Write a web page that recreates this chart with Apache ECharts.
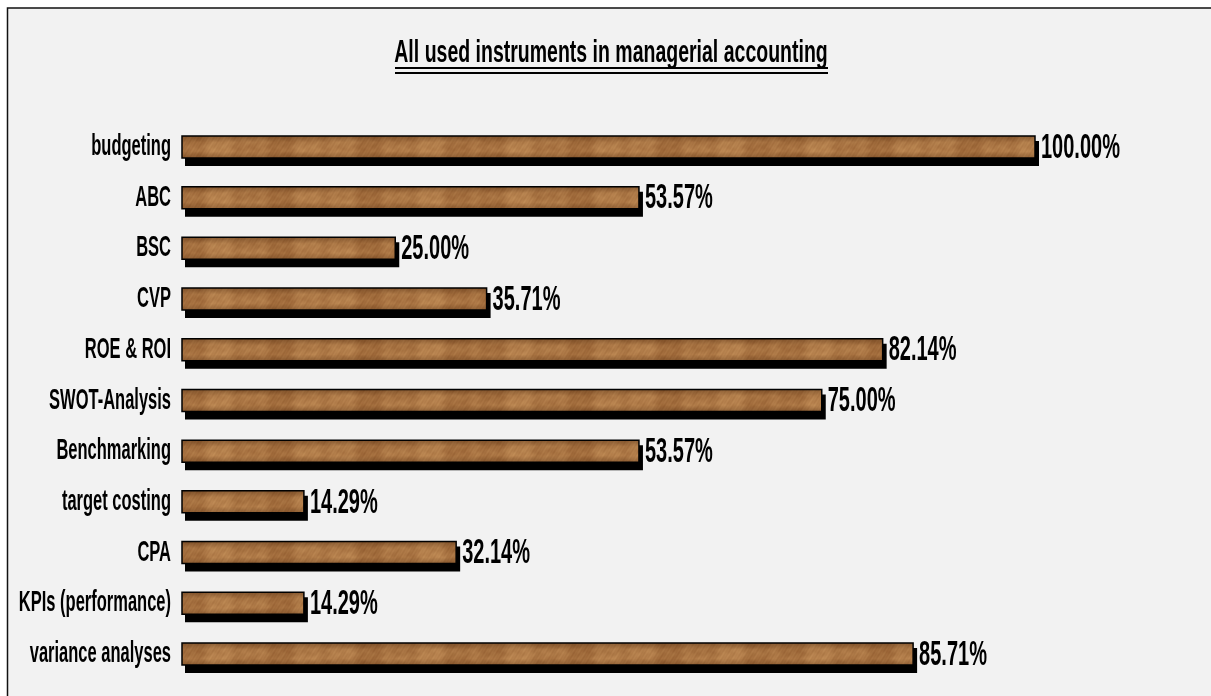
<!DOCTYPE html>
<html>
<head>
<meta charset="utf-8">
<title>All used instruments in managerial accounting</title>
<script src="https://cdn.jsdelivr.net/npm/echarts@6/dist/echarts.min.js"></script>
<style>
  html, body { margin: 0; padding: 0; background: #ffffff; }
  #chart { width: 1211px; height: 696px; }
</style>
</head>
<body>
<div id="chart"></div>
<script>
// Instruments and share of respondents using each one (%)
const categories = [
  'budgeting', 'ABC', 'BSC', 'CVP', 'ROE & ROI', 'SWOT-Analysis',
  'Benchmarking', 'target costing', 'CPA', 'KPIs (performance)', 'variance analyses'
];
const shares = [100.00, 53.57, 25.00, 35.71, 82.14, 75.00, 53.57, 14.29, 32.14, 14.29, 85.71];
const titleText = 'All used instruments in managerial accounting';

const FONT = '"Liberation Sans", Arial, sans-serif';
const BAR_H = 22;

// Wood-grain fill for the bars: periodic sine bands so the tile repeats seamlessly
function woodTexture() {
  const w = 300, h = 16;
  const c = document.createElement('canvas');
  c.width = w; c.height = h;
  const ctx = c.getContext('2d');
  const img = ctx.createImageData(w, h);
  const dark = [150, 96, 50], light = [204, 152, 96];
  const TX = 2 * Math.PI / w, TY = 2 * Math.PI / h;
  for (let y = 0; y < h; y++) {
    for (let x = 0; x < w; x++) {
      let t = 0.42
        + 0.14 * Math.sin(3 * TX * x + 0.6 * Math.sin(TY * y))
        + 0.10 * Math.sin(7 * TX * x + 1.1)
        + 0.08 * Math.sin(17 * TX * x + 2.3 + 0.8 * Math.sin(2 * TY * y))
        + 0.06 * Math.sin(43 * TX * x + TY * y * 2)
        + 0.05 * Math.sin(97 * TX * x + 3 * TY * y + 0.4);
      t = Math.max(0, Math.min(1, t));
      const i = (y * w + x) * 4;
      img.data[i]     = dark[0] + (light[0] - dark[0]) * t;
      img.data[i + 1] = dark[1] + (light[1] - dark[1]) * t;
      img.data[i + 2] = dark[2] + (light[2] - dark[2]) * t;
      img.data[i + 3] = 255;
    }
  }
  ctx.putImageData(img, 0, 0);
  return c;
}
const wood = woodTexture();

const chart = echarts.init(document.getElementById('chart'), null, { renderer: 'canvas' });

chart.setOption({
  backgroundColor: '#ffffff',
  animation: false,
  graphic: [
    {
      type: 'rect', z: -10, silent: true,
      shape: { x: 7.5, y: 8, width: 1400, height: 900 },
      style: { fill: '#f2f2f2', stroke: '#111111', lineWidth: 1.5 }
    },
    {
      type: 'text', silent: true,
      x: 611, y: 53.5, scaleX: 1, scaleY: 1.64,
      style: {
        text: titleText, font: 'bold 19.5px ' + FONT, fill: '#000',
        align: 'center', verticalAlign: 'middle'
      }
    },
    { type: 'rect', silent: true, shape: { x: 395, y: 67, width: 433, height: 2 }, style: { fill: '#000' } },
    { type: 'rect', silent: true, shape: { x: 395, y: 72, width: 433, height: 2 }, style: { fill: '#000' } }
  ],
  grid: { left: 182, right: 176, top: 121.6, bottom: 16.7, containLabel: false },
  xAxis: { type: 'value', min: 0, max: 100, show: false },
  yAxis: { type: 'category', data: categories, inverse: true, show: false },
  series: [
    {
      // wooden bars with a hard drop shadow
      name: 'share',
      type: 'custom',
      z: 2,
      data: shares.map((v, i) => [v, i]),
      encode: { x: 0, y: 1 },
      renderItem: function (params, api) {
        const start = api.coord([0, api.value(1)]);
        const end = api.coord([api.value(0), api.value(1)]);
        const x0 = start[0], y0 = start[1] - BAR_H / 2;
        const w = end[0] - start[0];
        return {
          type: 'group',
          children: [
            {
              type: 'rect',
              shape: { x: x0 + 3, y: y0 + 5, width: w + 1, height: BAR_H + 3 },
              style: { fill: '#000' }
            },
            {
              type: 'rect',
              shape: { x: x0, y: y0, width: w, height: BAR_H },
              style: { fill: { image: wood, repeat: 'repeat' } }
            },
            {
              type: 'rect',
              shape: { x: x0, y: y0, width: w, height: BAR_H },
              style: {
                fill: {
                  type: 'linear', x: 0, y: 0, x2: 0, y2: 1,
                  colorStops: [
                    { offset: 0, color: 'rgba(70,35,10,0.45)' },
                    { offset: 0.3, color: 'rgba(70,35,10,0.05)' },
                    { offset: 0.7, color: 'rgba(70,35,10,0.0)' },
                    { offset: 1, color: 'rgba(70,35,10,0.35)' }
                  ]
                },
                stroke: '#000',
                lineWidth: 1.5
              }
            }
          ]
        };
      }
    },
    {
      // value labels at the end of each bar
      name: 'value labels',
      type: 'custom',
      z: 3,
      data: shares.map((v, i) => [v, i]),
      renderItem: function (params, api) {
        const p = api.coord([api.value(0), api.value(1)]);
        return {
          type: 'text',
          x: p[0] + 6, y: p[1] + 1,
          scaleX: 1, scaleY: 1.75,
          style: {
            text: api.value(0).toFixed(2) + '%',
            font: 'bold 20px ' + FONT, fill: '#000',
            align: 'left', verticalAlign: 'middle'
          }
        };
      }
    },
    {
      // category names left of the bars
      name: 'category labels',
      type: 'custom',
      z: 3,
      data: categories.map((c, i) => [0, i]),
      renderItem: function (params, api) {
        const p = api.coord([api.value(0), api.value(1)]);
        return {
          type: 'text',
          x: p[0] - 11, y: p[1],
          scaleX: 1, scaleY: 1.78,
          style: {
            text: categories[api.value(1)],
            font: 'bold 16.5px ' + FONT, fill: '#000',
            align: 'right', verticalAlign: 'middle'
          }
        };
      }
    }
  ]
});
</script>
</body>
</html>
